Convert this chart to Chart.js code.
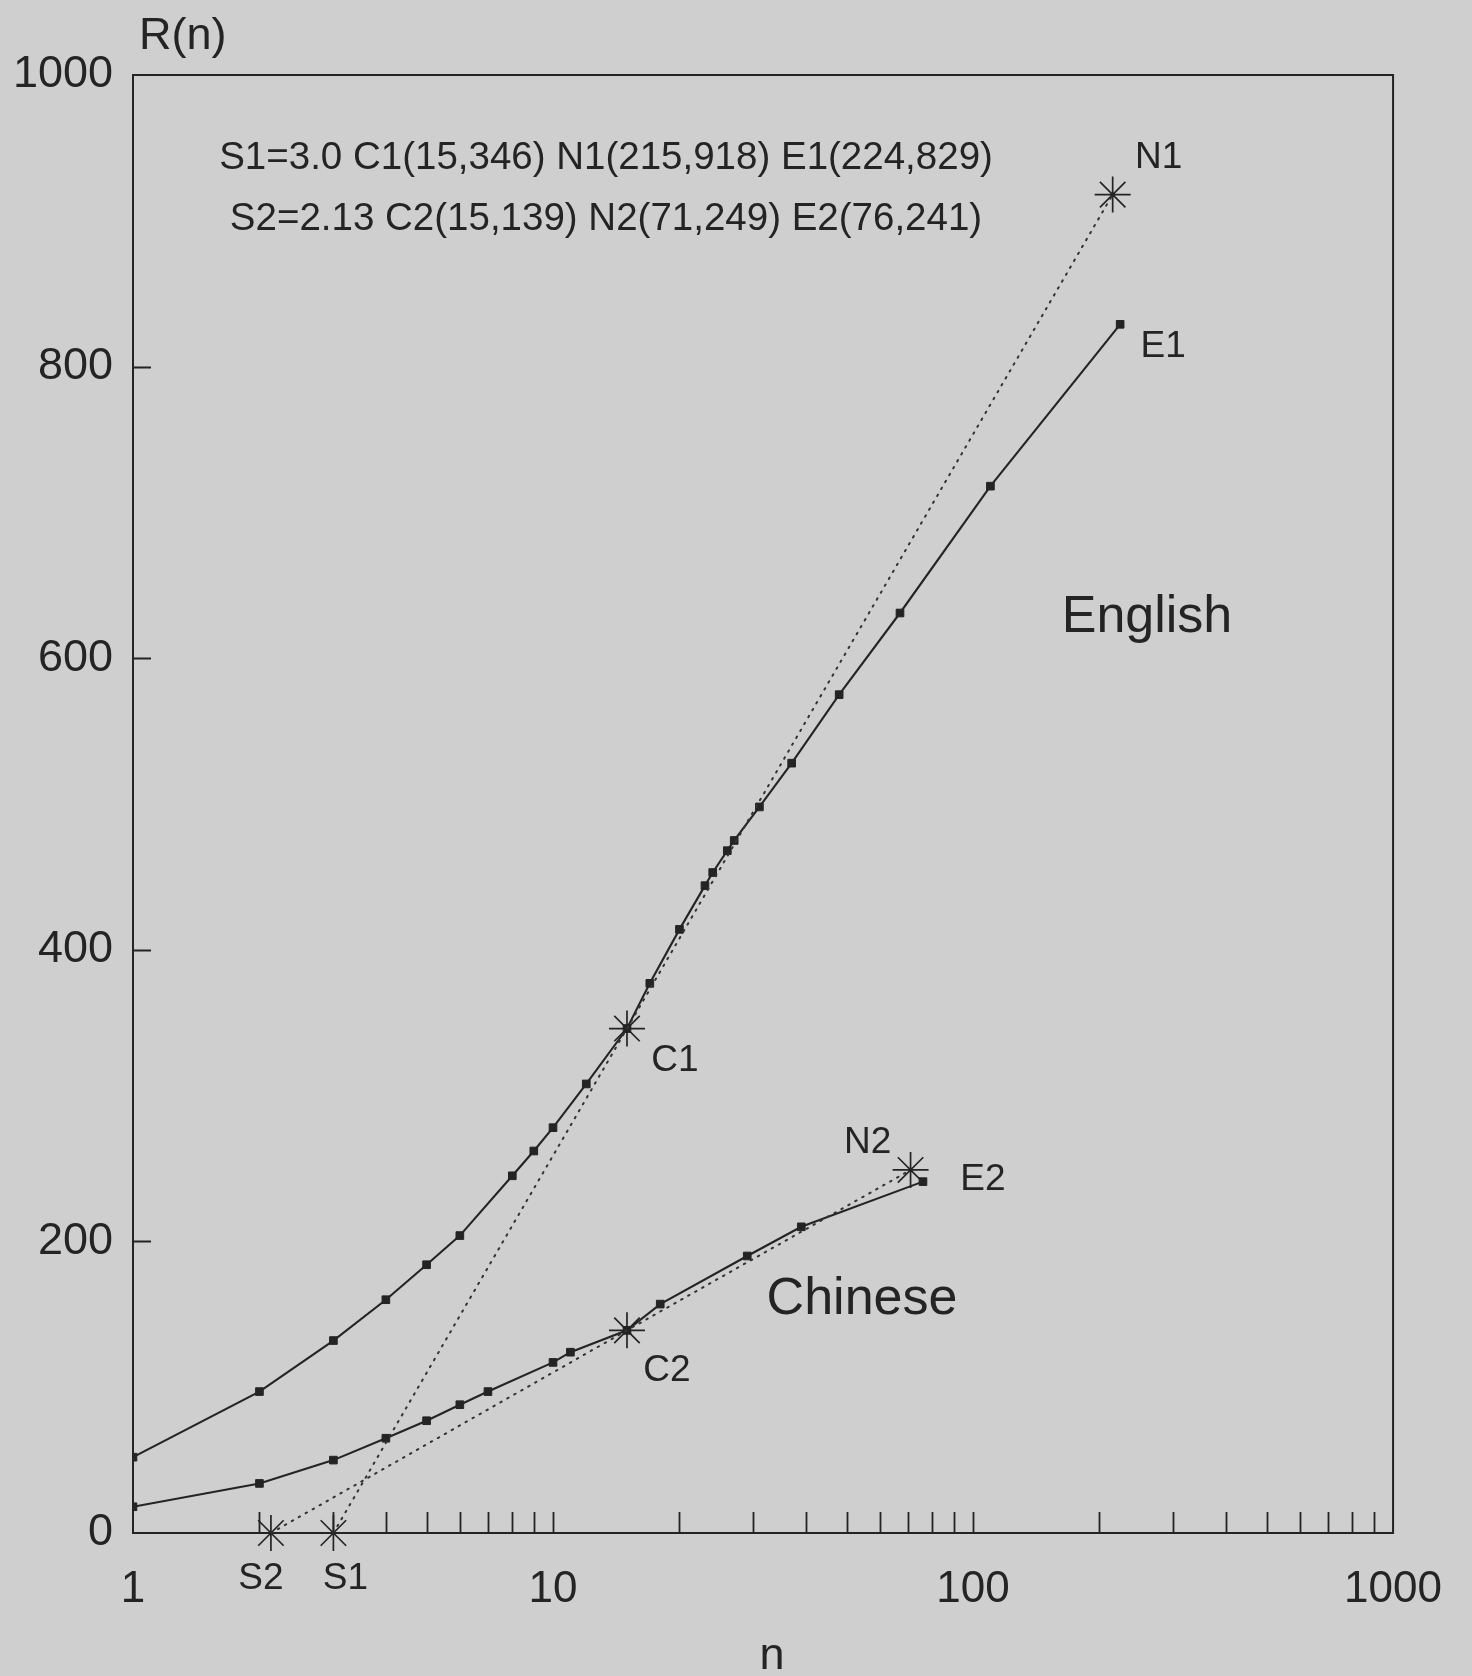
<!DOCTYPE html>
<html>
<head>
<meta charset="utf-8">
<title>R(n)</title>
<script src="https://cdn.jsdelivr.net/npm/chart.js@4.4.1/dist/chart.umd.min.js"></script>
<style>
  html, body { margin: 0; padding: 0; background: #cfcfcf; }
  #wrap { width: 1472px; height: 1676px; }
</style>
</head>
<body>
<div id="wrap"><canvas id="c" width="1472" height="1676"></canvas></div>
<script>
// Cumulative rank counts R(n) for the English and Chinese samples
const englishN = [1, 2, 3, 4, 5, 6, 8, 9, 10, 12, 15, 17, 20, 23, 24, 26, 27, 31, 37, 48, 67, 110, 224];
const englishR = [52, 97, 132, 160, 184, 204, 245, 262, 278, 308, 346, 377, 414, 444, 453, 468, 475, 498, 528, 575, 631, 718, 829];
const chineseN = [1, 2, 3, 4, 5, 6, 7, 10, 11, 15, 18, 29, 39, 76];
const chineseR = [18, 34, 50, 65, 77, 88, 97, 117, 124, 139, 157, 190, 210, 241];

// Fitted log lines: start S, core C, end N
const englishFitN = [3.0, 15, 215];
const englishFitR = [0, 346, 918];
const chineseFitN = [2.13, 15, 71];
const chineseFitR = [0, 139, 249];
const englishFitNames = ['S1', 'C1', 'N1'];
const chineseFitNames = ['S2', 'C2', 'N2'];

// Axis tick labels
const xTickValues = [1, 10, 100, 1000];
const yTickValues = [0, 200, 400, 600, 800, 1000];

const INK = '#242424';
const PAPER = '#cfcfcf';
const FONT = "'Liberation Sans', Arial, Helvetica, sans-serif";

const pts = (xs, ys) => xs.map((x, i) => ({ x, y: ys[i] }));
const lastE = englishN.length - 1, lastC = chineseN.length - 1;

const headerLines = [
  `S1=${englishFitN[0].toFixed(1)} C1(${englishFitN[1]},${englishFitR[1]}) N1(${englishFitN[2]},${englishFitR[2]}) E1(${englishN[lastE]},${englishR[lastE]})`,
  `S2=${chineseFitN[0].toFixed(2)} C2(${chineseFitN[1]},${chineseFitR[1]}) N2(${chineseFitN[2]},${chineseFitR[2]}) E2(${chineseN[lastC]},${chineseR[lastC]})`
];

// Paper background, plot frame and inward tick marks
const framePlugin = {
  id: 'frame',
  beforeDraw(chart) {
    const { ctx, width, height } = chart;
    ctx.save();
    ctx.fillStyle = PAPER;
    ctx.fillRect(0, 0, width, height);
    ctx.restore();
  },
  beforeDatasetsDraw(chart) {
    const { ctx, chartArea: a, scales: { x, y } } = chart;
    ctx.save();
    ctx.strokeStyle = INK;
    ctx.lineWidth = 2;
    ctx.strokeRect(a.left, a.top, a.right - a.left, a.bottom - a.top);
    ctx.lineWidth = 1.8;
    ctx.beginPath();
    // marks along the log axis at 2..9 of every decade
    for (let d = 1; d < 1000; d *= 10) {
      for (let k = 2; k <= 10; k++) {
        const v = k * d;
        if (v >= 1000) continue;
        const px = Math.round(x.getPixelForValue(v)) + 0.5;
        ctx.moveTo(px, a.bottom);
        ctx.lineTo(px, a.bottom - 21);
      }
    }
    yTickValues.slice(1, -1).forEach(v => {
      const py = Math.round(y.getPixelForValue(v)) + 0.5;
      ctx.moveTo(a.left, py);
      ctx.lineTo(a.left + 18, py);
    });
    ctx.stroke();
    ctx.restore();
  },
  afterDatasetsDraw(chart) {
    const { ctx, chartArea: a, scales: { x, y } } = chart;
    ctx.save();
    ctx.fillStyle = INK;
    ctx.textBaseline = 'middle';

    // axis titles
    ctx.font = `45px ${FONT}`;
    ctx.textAlign = 'left';
    ctx.fillText('R(n)', a.left + 6, a.top - 38);
    ctx.textAlign = 'center';
    ctx.fillText('n', 772, a.bottom + 124);

    // parameter summary
    ctx.font = `38.5px ${FONT}`;
    ctx.fillText(headerLines[0], a.left + 473, a.top + 83);
    ctx.fillText(headerLines[1], a.left + 473, a.top + 144);

    // point names next to the marks
    ctx.font = `37px ${FONT}`;
    const tag = (name, n, r, dx, dy) => {
      ctx.fillText(name, x.getPixelForValue(n) + dx, y.getPixelForValue(r) + dy);
    };
    const engOff = [[12, 46], [48, 32], [46, -37]];
    const chiOff = [[-10, 46], [40, 40], [-43, -27]];
    englishFitNames.forEach((nm, i) => tag(nm, englishFitN[i], englishFitR[i], engOff[i][0], engOff[i][1]));
    chineseFitNames.forEach((nm, i) => tag(nm, chineseFitN[i], chineseFitR[i], chiOff[i][0], chiOff[i][1]));
    tag('E1', englishN[lastE], englishR[lastE], 43, 22);
    tag('E2', chineseN[lastC], chineseR[lastC], 60, -2);

    // series names
    ctx.font = `52px ${FONT}`;
    ctx.fillText('English', a.left + 1014, a.top + 543);
    ctx.fillText('Chinese', a.left + 729, a.top + 1225);
    ctx.restore();
  }
};

const solid = (data) => ({
  type: 'line',
  data,
  borderColor: INK,
  borderWidth: 2.1,
  tension: 0,
  pointStyle: 'rect',
  pointRadius: 5.4,
  pointBackgroundColor: INK,
  pointBorderColor: INK,
  pointBorderWidth: 1
});
const dotted = (data) => ({
  type: 'line',
  data,
  borderColor: '#333',
  borderWidth: 2,
  borderDash: [1.5, 6.5],
  borderCapStyle: 'round',
  tension: 0,
  pointRadius: 0
});
const stars = (data) => ({
  type: 'scatter',
  data,
  showLine: false,
  pointStyle: 'star',
  pointRadius: 18,
  borderColor: INK,
  pointBorderColor: INK,
  pointBorderWidth: 1.7,
  clip: false
});

new Chart(document.getElementById('c'), {
  data: {
    datasets: [
      dotted(pts(englishFitN, englishFitR)),
      dotted(pts(chineseFitN, chineseFitR)),
      solid(pts(englishN, englishR)),
      solid(pts(chineseN, chineseR)),
      stars(pts(englishFitN, englishFitR)),
      stars(pts(chineseFitN, chineseFitR))
    ]
  },
  options: {
    responsive: false,
    animation: false,
    events: [],
    layout: { padding: { top: 75, right: 77, left: 0, bottom: 0 } },
    plugins: { legend: { display: false }, tooltip: { enabled: false } },
    scales: {
      x: {
        type: 'logarithmic',
        position: 'bottom',
        min: 1,
        max: 1000,
        grid: { display: false, drawTicks: false },
        border: { display: false },
        afterBuildTicks: s => { s.ticks = xTickValues.map(v => ({ value: v })); },
        afterFit: s => { s.height = 143; },
        ticks: {
          color: INK,
          padding: 30,
          maxRotation: 0,
          autoSkip: false,
          font: { family: FONT, size: 44 },
          callback: v => String(v)
        }
      },
      y: {
        type: 'linear',
        min: 0,
        max: 1000,
        grid: { display: false, drawTicks: false },
        border: { display: false },
        afterBuildTicks: s => { s.ticks = yTickValues.map(v => ({ value: v })); },
        afterFit: s => { s.width = 133; },
        ticks: {
          color: INK,
          padding: 20,
          font: { family: FONT, size: 45 },
          callback: v => String(v)
        }
      }
    }
  },
  plugins: [framePlugin]
});
</script>
</body>
</html>
